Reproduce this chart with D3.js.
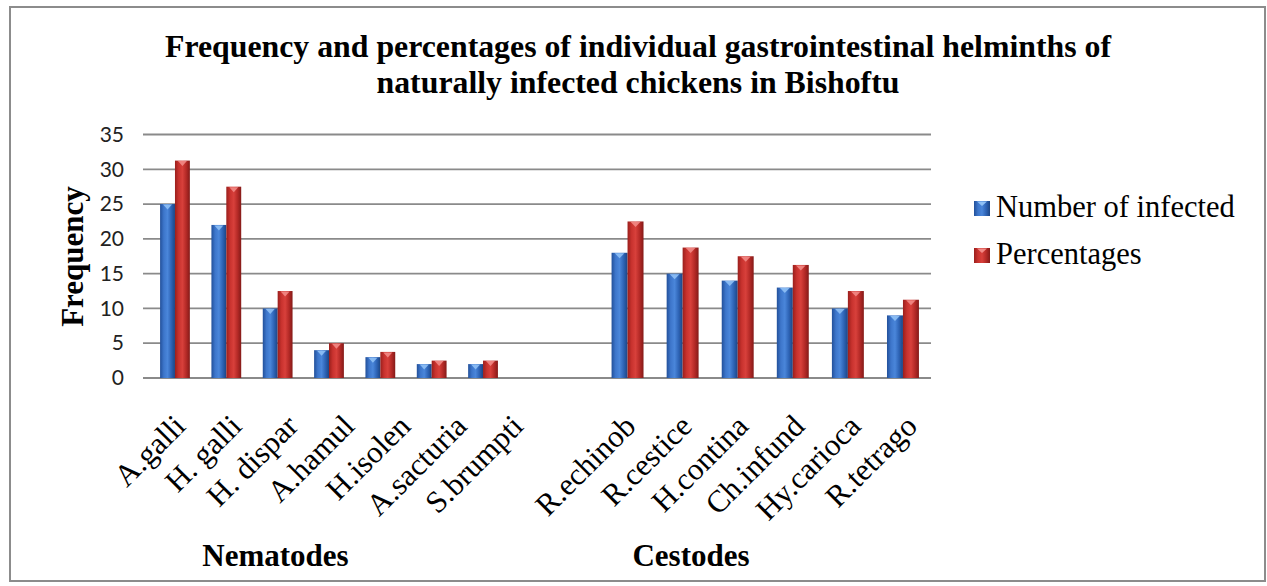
<!DOCTYPE html>
<html>
<head>
<meta charset="utf-8">
<script src="https://cdn.jsdelivr.net/npm/d3@7"></script>
<style>
  html, body { margin: 0; padding: 0; background: #ffffff; }
  svg { display: block; }
</style>
</head>
<body>
<svg id="chart" width="1267" height="586"></svg>
<script>
// Gastrointestinal helminths of naturally infected chickens, Bishoftu
const nematodes = ["A.galli", "H. galli", "H. dispar", "A.hamul", "H.isolen", "A.sacturia", "S.brumpti"];
const nematodeInfected = [25, 22, 10, 4, 3, 2, 2];
const nematodePercent = [31.25, 27.5, 12.5, 5, 3.75, 2.5, 2.5];

const cestodes = ["R.echinob", "R.cestice", "H.contina", "Ch.infund", "Hy.carioca", "R.tetrago"];
const cestodeInfected = [18, 15, 14, 13, 10, 9];
const cestodePercent = [22.5, 18.75, 17.5, 16.25, 12.5, 11.25];

const seriesNames = ["Number of infected", "Percentages"];
const groupNames = ["Nematodes", "Cestodes"];
const yTicks = [0, 5, 10, 15, 20, 25, 30, 35];
const titleLines = [
  "Frequency and percentages of individual gastrointestinal helminths of",
  "naturally infected chickens in Bishoftu"
];
const yTitle = "Frequency";

// ---- layout ----
const plot = { left: 143, right: 931, top: 134.5, bottom: 378 };
const groupRanges = [[149.3, 508.7], [600, 930.5]];
const serif = "'Liberation Serif', 'Times New Roman', serif";
const sans = "Lato, 'Open Sans', sans-serif";

const svg = d3.select("#chart");

// outer frame
svg.append("rect")
  .attr("x", 10).attr("y", 7).attr("width", 1255).attr("height", 574)
  .attr("fill", "#ffffff").attr("stroke", "#8c8c8c").attr("stroke-width", 2);

// bar shading: darker edges, lighter middle
const defs = svg.append("defs");
const palettes = [
  { id: "gBlue", stops: ["#22509a", "#3d76cb", "#4a86da", "#2e64b6", "#1c4584"], cap: "#8fc0f5" },
  { id: "gRed",  stops: ["#9a1f1c", "#c8322e", "#d8403b", "#b52a27", "#841a18"], cap: "#f28a86" }
];
palettes.forEach(p => {
  const g = defs.append("linearGradient").attr("id", p.id)
    .attr("x1", "0%").attr("x2", "100%").attr("y1", "0%").attr("y2", "0%");
  p.stops.forEach((c, i) => g.append("stop")
    .attr("offset", (i / (p.stops.length - 1) * 100) + "%").attr("stop-color", c));
});

const y = d3.scaleLinear().domain([0, 35]).range([plot.bottom, plot.top]);

// horizontal gridlines
svg.append("g").selectAll("line").data(yTicks).join("line")
  .attr("x1", plot.left).attr("x2", plot.right)
  .attr("y1", d => y(d)).attr("y2", d => y(d))
  .attr("stroke", "#8a8a8a").attr("stroke-width", 1.8);

// y axis labels
const yAxis = svg.append("g")
  .attr("transform", `translate(${plot.left},0)`)
  .call(d3.axisLeft(y).tickValues(yTicks).tickSize(0).tickPadding(19));
yAxis.select(".domain").remove();
yAxis.selectAll("text")
  .attr("font-family", sans).attr("font-size", 21).attr("fill", "#222");

// y axis title
svg.append("text")
  .attr("transform", "translate(83,256.5) rotate(-90)")
  .attr("text-anchor", "middle")
  .attr("font-family", serif).attr("font-weight", "bold").attr("font-size", 31)
  .attr("fill", "#000").text(yTitle);

// bars, one band scale per helminth group
const groups = [
  { names: nematodes, values: [nematodeInfected, nematodePercent], range: groupRanges[0] },
  { names: cestodes, values: [cestodeInfected, cestodePercent], range: groupRanges[1] }
];

groups.forEach(grp => {
  const x0 = d3.scaleBand().domain(grp.names).range(grp.range)
    .paddingInner(0.42).paddingOuter(0.21);
  const x1 = d3.scaleBand().domain([0, 1]).range([0, x0.bandwidth()]);
  const rows = grp.names.map((n, i) => ({ name: n, vals: [grp.values[0][i], grp.values[1][i]] }));

  const cat = svg.append("g").selectAll("g").data(rows).join("g")
    .attr("transform", d => `translate(${x0(d.name)},0)`);

  const bar = cat.selectAll("g").data(d => d.vals.map((v, s) => ({ v, s }))).join("g");
  bar.append("rect")
    .attr("x", d => x1(d.s)).attr("width", x1.bandwidth())
    .attr("y", d => y(d.v)).attr("height", d => y(0) - y(d.v))
    .attr("fill", d => `url(#${palettes[d.s].id})`);
  // bevelled top
  bar.append("path")
    .attr("d", d => {
      const l = x1(d.s), w = x1.bandwidth(), t = y(d.v);
      return `M${l + w * 0.2},${t + 0.5} L${l + w * 0.8},${t + 0.5} L${l + w / 2},${t + 5.5} Z`;
    })
    .attr("fill", d => palettes[d.s].cap).attr("opacity", 0.9);
});

// category labels on an evenly spaced axis (blank slot between the groups)
const slots = [...nematodes, "", ...cestodes];
const xAxisScale = d3.scaleBand().domain(slots).range([plot.left, plot.right]);
const xAxis = svg.append("g")
  .attr("transform", `translate(0,${plot.bottom})`)
  .call(d3.axisBottom(xAxisScale).tickValues(slots.filter(s => s !== "")).tickSize(0));
xAxis.select(".domain").remove();
xAxis.selectAll("text")
  .attr("y", 0).attr("dy", 0)
  .attr("transform", "translate(16,50) rotate(-45)")
  .attr("text-anchor", "end")
  .attr("font-family", serif).attr("font-size", 31).attr("fill", "#000");

// group names under the labels
const groupCenters = [275.5, 691];
svg.append("g").selectAll("text").data(groupNames).join("text")
  .attr("x", (d, i) => groupCenters[i]).attr("y", 566)
  .attr("text-anchor", "middle")
  .attr("font-family", serif).attr("font-weight", "bold").attr("font-size", 31)
  .attr("fill", "#000").text(d => d);

// title
svg.append("g").selectAll("text").data(titleLines).join("text")
  .attr("x", 638).attr("y", (d, i) => 57 + i * 36)
  .attr("text-anchor", "middle")
  .attr("font-family", serif).attr("font-weight", "bold").attr("font-size", 31.8)
  .attr("fill", "#000").text(d => d);

// legend
const legend = svg.append("g").selectAll("g").data(seriesNames).join("g")
  .attr("transform", (d, i) => `translate(974,${201 + i * 47})`);
legend.append("rect")
  .attr("width", 16).attr("height", 15)
  .attr("fill", (d, i) => `url(#${palettes[i].id})`);
legend.append("path")
  .attr("d", "M3,0.5 L13,0.5 L8,5 Z")
  .attr("fill", (d, i) => palettes[i].cap);
legend.append("text")
  .attr("x", 22).attr("y", 15.5)
  .attr("font-family", serif).attr("font-size", 30.5).attr("fill", "#000")
  .text(d => d);
</script>
</body>
</html>
